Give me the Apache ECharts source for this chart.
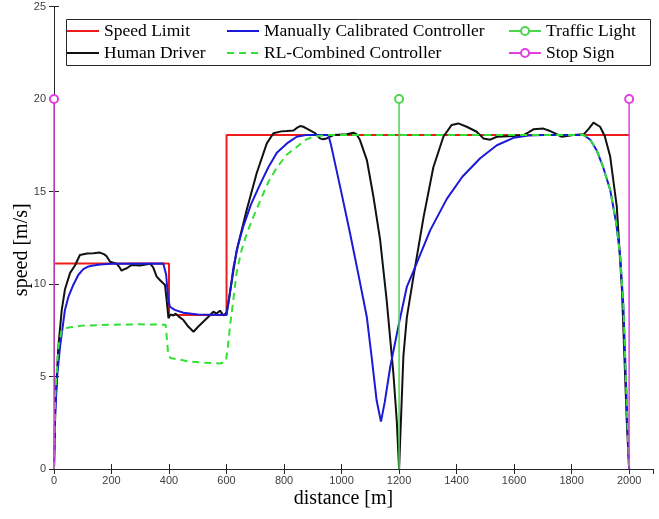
<!DOCTYPE html>
<html><head><meta charset="utf-8">
<script src="https://cdn.jsdelivr.net/npm/echarts@6/dist/echarts.min.js"></script>
<style>html,body{margin:0;padding:0;background:#fff}#c{width:659px;height:519px}</style>
</head><body><div id="c"></div>
<script>
// ---- data ----
const limitX = [0, 400, 400, 600, 600, 2000];
const limitY = [11.11, 11.11, 8.33, 8.33, 18.06, 18.06];

const humanX = [0,5,15,27,38,56,73,90,115,137,160,175,183,195,218,228,235,245,253,270,299,334,345,357,369,386,392,398,405,415,423,433,450,467,485,502,519,537,554,566,577,589,600,606,635,670,705,740,763,790,809,833,846,856,867,879,908,925,935,948,972,1018,1041,1052,1064,1088,1111,1134,1157,1180,1192,1200,1215,1227,1250,1285,1319,1354,1383,1406,1435,1470,1493,1517,1540,1598,1633,1650,1667,1702,1720,1737,1766,1806,1843,1860,1876,1899,1915,1934,1957,1975,1992,2000];
const humanY = [0,3.5,6.6,8.6,9.7,10.6,11.0,11.57,11.65,11.66,11.7,11.6,11.5,11.2,11.1,10.9,10.72,10.8,10.85,11.03,11.0,11.1,10.9,10.4,10.2,9.95,9.1,8.15,8.35,8.3,8.4,8.25,8.05,7.7,7.42,7.7,7.96,8.23,8.5,8.4,8.56,8.3,8.45,8.96,11.8,14.0,16.0,17.6,18.15,18.25,18.27,18.3,18.45,18.54,18.5,18.4,18.15,17.87,17.82,17.87,18.05,18.1,18.18,18.1,17.78,16.7,14.7,12.4,9.1,5.2,2.6,0,6.1,8.2,10.4,13.6,16.3,17.96,18.6,18.68,18.5,18.23,17.87,17.8,17.96,18.0,18.05,18.2,18.36,18.4,18.3,18.18,17.96,18.05,18.1,18.4,18.72,18.5,18.0,16.9,14.2,9.7,2.5,0];

const manualX = [0,4,12,21,38,50,67,85,102,120,137,160,200,380,390,397,403,420,450,500,600,610,624,640,658,685,717,745,775,810,844,880,954,962,972,1000,1030,1060,1088,1105,1122,1137,1150,1169,1200,1227,1250,1308,1366,1420,1482,1540,1598,1650,1700,1841,1865,1888,1910,1934,1955,1969,1980,1986,1993,2000];
const manualY = [0,3,5.2,6.6,8.6,9.3,9.95,10.5,10.8,10.95,11.0,11.05,11.1,11.11,10.5,9.2,8.77,8.6,8.45,8.35,8.33,9.3,10.9,12.1,13.1,14.3,15.4,16.3,17.1,17.6,17.96,18.06,18.06,17.6,16.9,14.9,12.7,10.4,8.2,6.0,3.7,2.56,3.6,5.5,7.9,9.85,10.7,12.9,14.6,15.8,16.8,17.5,17.9,18.03,18.06,18.06,17.8,17.2,16.3,15.1,13.3,11.5,8.8,6.1,3.0,0];

const rlX = [0,4,15,27,50,100,200,300,388,393,397,405,440,473,520,577,597,603,612,635,650,670,695,717,745,775,810,844,875,902,950,1841,1865,1888,1910,1934,1955,1969,1980,1986,1993,2000];
const rlY = [0,3.9,6.6,7.5,7.65,7.75,7.8,7.82,7.8,7.0,6.2,6.0,5.9,5.8,5.75,5.7,5.8,6.4,7.7,10.6,11.7,12.7,13.7,14.5,15.5,16.3,17.0,17.4,17.8,17.96,18.06,18.06,17.8,17.2,16.3,15.1,13.3,11.5,8.8,6.1,3.0,0];

const lightX = [1200, 1200];
const lightY = [0, 20];
const stopAX = [0, 0];
const stopBX = [2000, 2000];
const stopY = [0, 20];

const xTicks = [0,200,400,600,800,1000,1200,1400,1600,1800,2000];
const yTicks = [0,5,10,15,20,25];

// ---- build ----
const pairs = (xs, ys) => xs.map((x, i) => [x, ys[i]]);
const stem = (xs, ys) => xs.map((x, i) => ys[i] === 0 ? {value: [x, ys[i]], symbol: 'none'} : {value: [x, ys[i]]});

const axisCol = '#262626';
const lblStyle = {color: '#404040', fontFamily: 'Liberation Sans', fontSize: 11};
const serif = 'Liberation Serif';

const chart = echarts.init(document.getElementById('c'), null, {renderer: 'canvas'});
const lineSeries = (name, data, color, dash) => ({
  name, type: 'line', data, showSymbol: false, symbol: 'none', animation: false,
  lineStyle: {color, width: 2, type: dash || 'solid'}, itemStyle: {color, opacity: 0}, emphasis: {disabled: true}
});

const stemSeries = (name, data, color) => ({
  name, type: 'line', data, symbol: 'emptyCircle', symbolSize: 8, showSymbol: true,
  animation: false, clip: false, z: 5,
  lineStyle: {color, width: 1.5}, itemStyle: {color, borderColor: color, borderWidth: 1.5},
  emphasis: {disabled: true}
});

const lineItem = name => ({name, itemStyle: {opacity: 0}});
const legendBase = {orient: 'vertical', top: 22, itemWidth: 32, itemHeight: 10, itemGap: 4, padding: 0,
  textStyle: {fontFamily: serif, fontSize: 17.5, color: '#000', lineHeight: 18}, selectedMode: false};

chart.setOption({
  backgroundColor: '#fff',
  animation: false,
  grid: {left: 54, right: 6, top: 6.5, bottom: 50, containLabel: false},
  xAxis: [{
    type: 'value', min: 0, max: 2083, interval: 200, position: 'bottom',
    axisLine: {show: true, lineStyle: {color: axisCol, width: 1}},
    axisTick: {show: true, inside: true, length: 5, lineStyle: {color: axisCol}},
    splitLine: {show: false},
    axisLabel: Object.assign({margin: 6, showMaxLabel: false, formatter: v => xTicks.includes(v) ? String(v) : ''}, lblStyle),
    name: 'distance [m]', nameLocation: 'middle', nameGap: 20, nameMoveOverlap: false,
    nameTextStyle: {fontFamily: serif, fontSize: 20, color: '#000', padding: [0, 20, 0, 0]}
  }, {
    type: 'value', min: 0, max: 2083, interval: 200, position: 'top',
    axisLine: {show: true, lineStyle: {color: axisCol, width: 1}},
    axisTick: {show: true, inside: true, length: 5, lineStyle: {color: axisCol}},
    splitLine: {show: false}, axisLabel: {show: false}
  }],
  yAxis: [{
    type: 'value', min: 0, max: 25, interval: 5, position: 'left',
    axisLine: {show: true, lineStyle: {color: axisCol, width: 1}},
    axisTick: {show: true, inside: true, length: 5, lineStyle: {color: axisCol}},
    splitLine: {show: false},
    axisLabel: Object.assign({margin: 8, formatter: v => yTicks.includes(v) ? String(v) : ''}, lblStyle),
    name: 'speed [m/s]', nameLocation: 'middle', nameGap: 22, nameMoveOverlap: false,
    nameTextStyle: {fontFamily: serif, fontSize: 20, color: '#000', padding: [0, 24, 0, 0]}
  }, {
    type: 'value', min: 0, max: 25, interval: 5, position: 'right',
    axisLine: {show: true, lineStyle: {color: axisCol, width: 1}},
    axisTick: {show: true, inside: true, length: 5, lineStyle: {color: axisCol}},
    splitLine: {show: false}, axisLabel: {show: false}
  }],
  legend: [
    Object.assign({data: [lineItem('Speed Limit'), lineItem('Human Driver')], left: 66}, legendBase),
    Object.assign({data: [lineItem('Manually Calibrated Controller'), lineItem('RL-Combined Controller')], left: 226}, legendBase),
    Object.assign({data: ['Traffic Light', 'Stop Sign'], left: 508}, legendBase)
  ],
  graphic: [{
    type: 'rect', left: 64, top: 17, shape: {width: 584, height: 46}, z: 100,
    style: {fill: 'none', stroke: axisCol, lineWidth: 1}
  }],
  series: [
    lineSeries('Speed Limit', pairs(limitX, limitY), '#ee1c1c'),
    lineSeries('Human Driver', pairs(humanX, humanY), '#111111'),
    lineSeries('Manually Calibrated Controller', pairs(manualX, manualY), '#1a1ad8'),
    lineSeries('RL-Combined Controller', pairs(rlX, rlY), '#33e033', [7, 5]),
    stemSeries('Traffic Light', stem(lightX, lightY), '#4cd64c'),
    stemSeries('Stop Sign', stem(stopAX, stopY), '#e040e0'),
    stemSeries('Stop Sign', stem(stopBX, stopY), '#e040e0')
  ]
});
</script></body></html>
